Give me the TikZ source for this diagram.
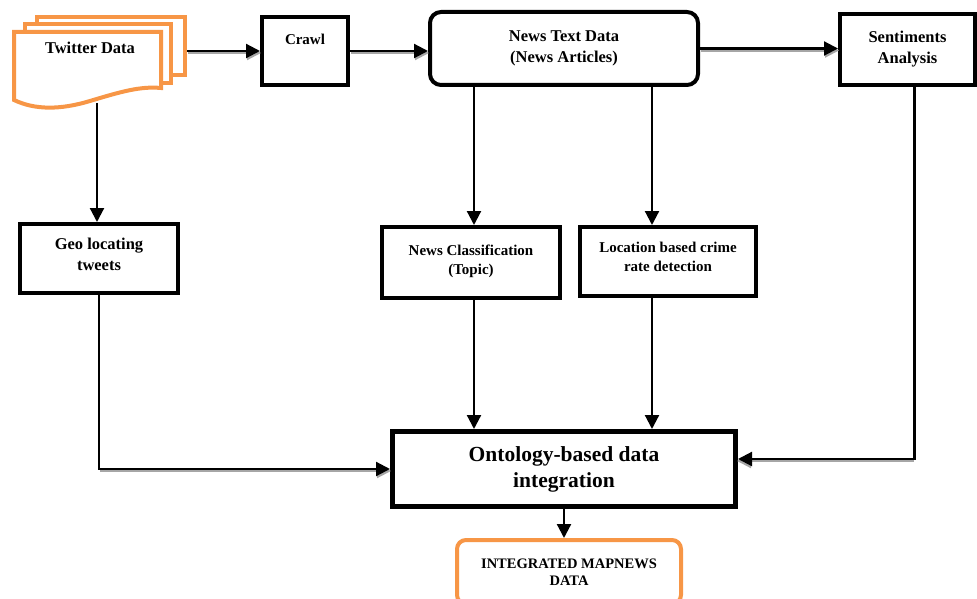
\documentclass[tikz,border=0pt]{standalone}
\usepackage{fontspec}
\setmainfont{Liberation Serif}
\usetikzlibrary{arrows.meta,calc}
\definecolor{docorange}{HTML}{F79646}
\begin{document}
\begin{tikzpicture}[x=1pt,y=-1pt,
  box/.style={draw=black, line width=4pt, fill=white, align=center, inner sep=0pt,
    font=\bfseries\fontsize{15}{19}\selectfont},
  bigbox/.style={box, font=\bfseries\fontsize{16.5}{21}\selectfont},
  plaintxt/.style={inner sep=0pt, align=center},
  arr/.style={-{Triangle[length=14pt,width=14pt]}, line width=2.2pt, draw=black},
  shd/.style={-{Triangle[length=14pt,width=14pt]}, line width=2.2pt, draw=black!35},
  docpage/.style={draw=docorange, line width=4pt, fill=white},
]
\useasboundingbox (0,0) rectangle (977,599);
\clip (0,0) rectangle (977,599);

% Twitter data (multi-document)
\node[docpage, minimum width=148pt, minimum height=58pt] (tw3) at (111,46) {};
\node[docpage, minimum width=146pt, minimum height=59pt] (tw2) at (98,53.5) {};
\draw[docpage, line join=miter] (14,32) -- (161,32) -- (161,88)
  .. controls (140,86) and (120,92) .. (90,101)
  .. controls (60,110) and (35,110) .. (14,100) -- cycle;
\node[plaintxt, font=\bfseries\fontsize{16.5}{21}\selectfont] (tw) at (90,48) {Twitter Data};
\coordinate (twB) at (97,103);

% boxes
\node[box, minimum width=86pt, minimum height=68pt] (crawl) at (305,51) {};
\node[plaintxt, font=\bfseries\fontsize{15}{19}\selectfont] (crawltxt) at (305,39) {Crawl};
\node[bigbox, rounded corners=11pt, minimum width=268pt, minimum height=73pt] (news) at (564,48.5)
  {News Text Data\\(News Articles)};
\node[bigbox, minimum width=135pt, minimum height=71pt] (sent) at (907.5,49.5)
  {Sentiments\\Analysis};
\node[bigbox, minimum width=158pt, minimum height=69pt, text depth=9pt] (geo) at (99,258.5)
  {Geo locating\\tweets};
\node[box, minimum width=178pt, minimum height=71pt, text depth=5pt] (cls) at (471,262.5)
  {News Classification\\(Topic)};
\node[box, minimum width=176pt, minimum height=69pt, text depth=9pt] (loc) at (668,261.5)
  {Location based crime\\rate detection};
\node[box, line width=5pt, minimum width=343pt, minimum height=75pt,
  font=\bfseries\fontsize{21.5}{26}\selectfont] (onto) at (564,469)
  {Ontology-based data\\integration};
\node[box, draw=docorange, rounded corners=9pt, minimum width=224pt, minimum height=64pt,
  font=\bfseries\fontsize{14.5}{17}\selectfont] (integ) at (569,572)
  {INTEGRATED MAPNEWS\\DATA};

% helper coordinates
\coordinate (a1) at (tw3.east |- crawl.west);
\coordinate (a2) at (crawl.west);
\coordinate (b1) at (crawl.east);
\coordinate (b2) at (crawl.east -| news.west);
\coordinate (c1) at (news.east);
\coordinate (c2) at (news.east -| sent.west);
\coordinate (gC) at (geo.south |- onto.west);
\coordinate (oE) at ([yshift=10pt]onto.east);
\coordinate (sB) at ([xshift=7pt]sent.south);
\coordinate (sC) at (sB |- oE);

% shadowed horizontal arrows
\draw[shd] ([xshift=1pt,yshift=-2pt]a1) -- ([xshift=1pt,yshift=-2pt]a2);
\draw[arr] (a1) -- (a2);
\draw[shd] ([xshift=1pt,yshift=-2pt]b1) -- ([xshift=1pt,yshift=-2pt]b2);
\draw[arr] (b1) -- (b2);
\draw[shd] ([xshift=1pt,yshift=-2pt]c1) -- ([xshift=1pt,yshift=-2pt]c2);
\draw[arr] (c1) -- (c2);
\draw[shd] ([xshift=1pt,yshift=-2pt]gC) -- ([xshift=1pt,yshift=-2pt]onto.west);
\draw[arr] (geo.south) |- (onto.west);
\draw[shd] ([xshift=-1pt,yshift=-2pt]sC) -- ([xshift=-1pt,yshift=-2pt]oE);
\draw[arr] (sB) |- (oE);

% vertical arrows
\draw[arr] (twB) -- (twB |- geo.north);
\draw[arr] ([xshift=3pt]cls.north |- news.south) -- ([xshift=3pt]cls.north);
\draw[arr] ([xshift=-16pt]loc.north |- news.south) -- ([xshift=-16pt]loc.north);
\draw[arr] ([xshift=3pt]cls.south) -- ([xshift=3pt]cls.south |- onto.north);
\draw[arr] ([xshift=-16pt]loc.south) -- ([xshift=-16pt]loc.south |- onto.north);
\draw[arr] (onto.south) -- (onto.south |- integ.north);
\end{tikzpicture}
\end{document}
